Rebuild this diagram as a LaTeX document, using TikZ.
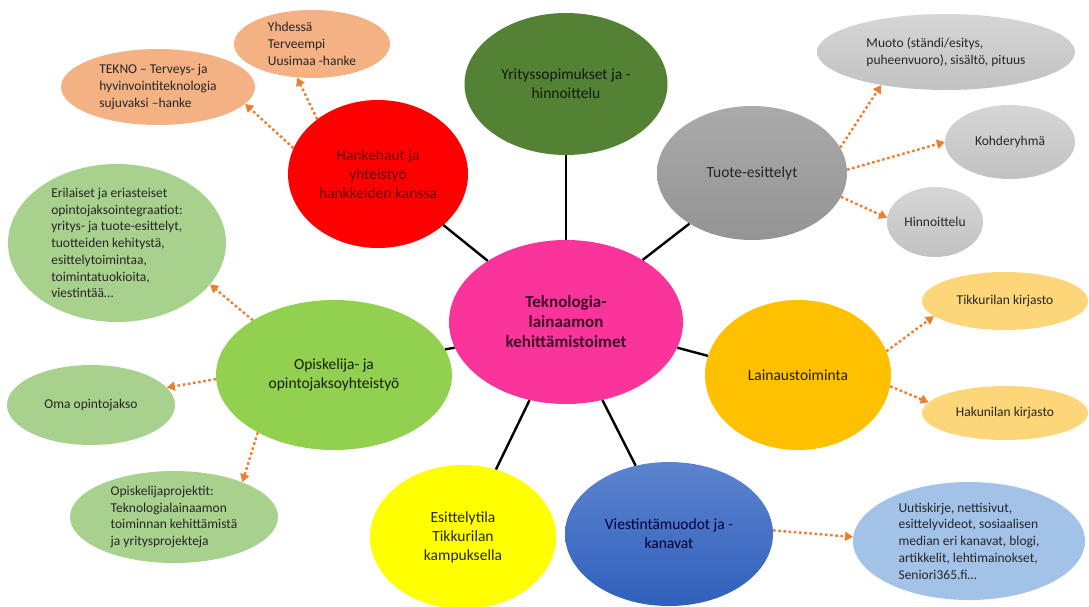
\documentclass[tikz,border=0pt]{standalone}
\usepackage{fontspec}
\setmainfont{Carlito}
\usetikzlibrary{shapes.geometric,arrows.meta}
\definecolor{cpink}{RGB}{250,52,154}
\definecolor{cred}{RGB}{255,0,0}
\definecolor{cdg}{RGB}{84,130,53}
\definecolor{cgrayT}{RGB}{170,170,170}
\definecolor{cgrayB}{RGB}{148,148,148}
\definecolor{clgrayT}{RGB}{214,214,214}
\definecolor{clgrayB}{RGB}{194,194,194}
\definecolor{corange}{RGB}{255,192,0}
\definecolor{clyel}{RGB}{252,214,120}
\definecolor{cblueT}{RGB}{92,131,207}
\definecolor{cblueB}{RGB}{48,96,188}
\definecolor{clblue}{RGB}{163,194,232}
\definecolor{cyel}{RGB}{255,255,0}
\definecolor{clg}{RGB}{146,208,80}
\definecolor{csatg}{RGB}{169,209,142}
\definecolor{csalmon}{RGB}{244,177,131}
\definecolor{carrow}{RGB}{237,125,49}
\begin{document}
\begin{tikzpicture}[x=1pt,y=-1pt,
  bub/.style n args={2}{ellipse, inner sep=0pt, minimum width=#1, minimum height=#2},
  maintxt/.style={font=\fontsize{15.5}{19}\selectfont, align=center},
  boldtxt/.style={font=\fontsize{17}{20}\selectfont\bfseries, align=center},
  sattxt/.style={font=\fontsize{13.5}{16.7}\selectfont, align=left, text=black!85},
  conn/.style={draw=black, line width=2.4pt},
  arr/.style={draw=carrow, line width=2.4pt, dash pattern=on 2.6pt off 2.6pt,
    -{Triangle[length=8pt,width=9pt]}}]
\useasboundingbox[fill=white] (0,0) rectangle (1089,606);

% main bubbles
\node[bub={234}{164}, fill=cpink,
  label={[boldtxt, text=black!75!cpink]center:{Teknologia-\\lainaamon\\kehittämistoimet}}] (pink) at (566,322) {};
\node[bub={180}{148}, fill=cred,
  label={[maintxt, text=black!60!red]center:{Hankehaut ja\\yhteistyö\\hankkeiden kanssa}}] (red) at (378,174) {};
\node[bub={203}{142}, fill=cdg,
  label={[maintxt, text=black!80!cdg]center:{Yrityssopimukset ja -\\hinnoittelu}}] (dg) at (566,84) {};
\node[bub={190}{134}, top color=cgrayT, bottom color=cgrayB,
  label={[maintxt, text=black!85]center:{Tuote-esittelyt}}] (tuote) at (752,173) {};
\node[bub={186}{150}, fill=corange,
  label={[maintxt, text=black!85!corange]center:{Lainaustoiminta}}] (laina) at (798,375) {};
\node[bub={208}{144}, top color=cblueT, bottom color=cblueB,
  label={[maintxt, text=black!80!blue]center:{Viestintämuodot ja -\\kanavat}}] (blue) at (669,534) {};
\node[bub={186}{144}, fill=cyel,
  label={[maintxt, text=black!85!cyel]center:{Esittelytila\\Tikkurilan\\kampuksella}}] (yel) at (463,537) {};
\node[bub={236}{150}, fill=clg,
  label={[maintxt, text=black!85!clg]center:{Opiskelija- ja\\opintojaksoyhteistyö}}] (lg) at (334,375) {};

% satellites
\node[bub={156}{68}, fill=csalmon, label={[sattxt]center:{Yhdessä\\Terveempi\\Uusimaa -hanke}}] (yhd) at (312,44) {};
\node[bub={194}{76}, fill=csalmon, label={[sattxt]center:{TEKNO – Terveys- ja\\hyvinvointiteknologia\\sujuvaksi –hanke}}] (tekno) at (158,87) {};
\node[bub={258}{76}, top color=clgrayT, bottom color=clgrayB, label={[sattxt]center:{Muoto (ständi/esitys,\\puheenvuoro), sisältö, pituus}}] (muoto) at (946,52) {};
\node[bub={130}{74}, top color=clgrayT, bottom color=clgrayB, label={[sattxt]center:{Kohderyhmä}}] (kohde) at (1010,142) {};
\node[bub={96}{70}, top color=clgrayT, bottom color=clgrayB, label={[sattxt]center:{Hinnoittelu}}] (hinn) at (935,222) {};
\node[bub={166}{58}, fill=clyel, label={[sattxt]center:{Tikkurilan kirjasto}}] (tikk) at (1005,301) {};
\node[bub={166}{54}, fill=clyel, label={[sattxt]center:{Hakunilan kirjasto}}] (hak) at (1005,413) {};
\node[bub={232}{118}, fill=clblue, label={[sattxt]center:{Uutiskirje, nettisivut,\\esittelyvideot, sosiaalisen\\median eri kanavat, blogi,\\artikkelit, lehtimainokset,\\Seniori365.fi…}}] (uutis) at (969,541) {};
\node[bub={218}{158}, fill=csatg, label={[sattxt]center:{Erilaiset ja eriasteiset\\opintojaksointegraatiot:\\yritys- ja tuote-esittelyt,\\tuotteiden kehitystä,\\esittelytoimintaa,\\toimintatuokioita,\\viestintää…}}] (eri) at (117,243) {};
\node[bub={168}{80}, fill=csatg, label={[sattxt]center:{Oma opintojakso}}] (oma) at (91,405) {};
\node[bub={208}{92}, fill=csatg, label={[sattxt]center:{Opiskelijaprojektit:\\Teknologialainaamon\\toiminnan kehittämistä\\ja yritysprojekteja}}] (proj) at (174,517) {};

% solid connectors
\draw[conn] (pink.142) -- (red.-38);
\draw[conn] (dg.south) -- (dg.south |- pink.north);
\draw[conn] (pink.39) -- (tuote.219);
\draw[conn] (pink.-13) -- (laina.168);
\draw[conn] (pink.245) -- (yel.64);
\draw[conn] (pink.295) -- (blue.116);
\draw[conn] (pink.193) -- (lg.13);

% dotted arrows
\draw[arr] (red.163) -- (tekno.-11);
\draw[arr] (red.138) -- (yhd.246);
\draw[arr] (tuote.16) -- (muoto.207);
\draw[arr] (tuote.2) -- (kohde.180);
\draw[arr] (tuote.-15) -- (hinn.175);
\draw[arr] (laina.15) -- (tikk.192);
\draw[arr] (laina.-7) -- (hak.172);
\draw[arr] (blue.2) -- (uutis.178);
\draw[arr] (lg.146) -- (eri.-24);
\draw[arr] (lg.182) -- (oma.13);
\draw[arr] (lg.217) -- (proj.27);
\end{tikzpicture}
\end{document}
